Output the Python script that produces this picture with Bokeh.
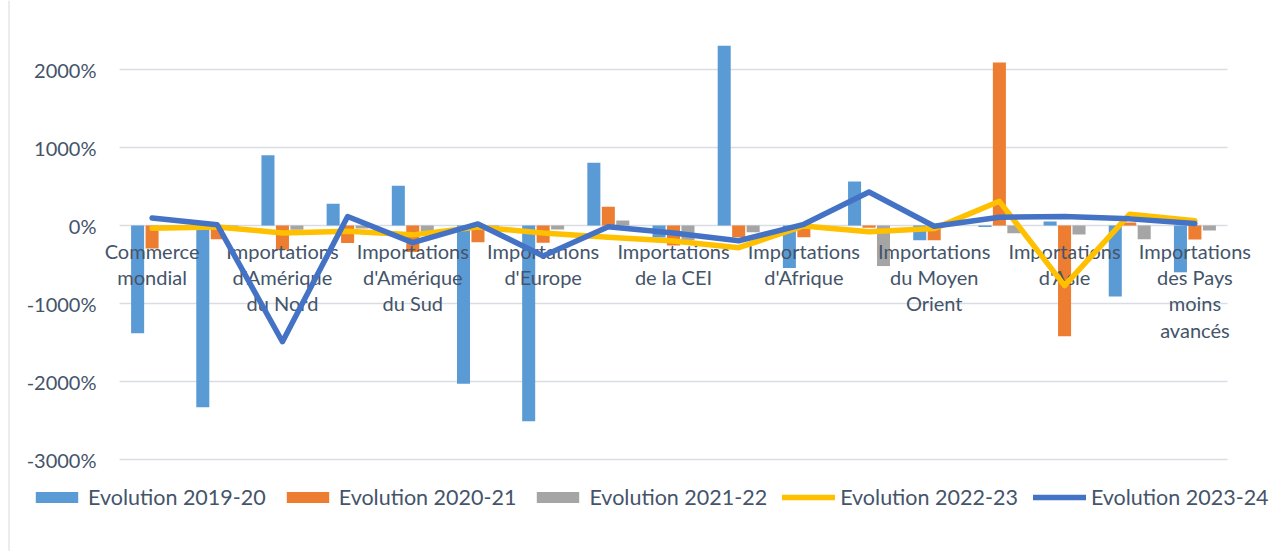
import numpy as np
from bokeh.plotting import figure
from bokeh.models import ColumnDataSource, Legend, LegendItem, Range1d
from bokeh.core.properties import value
from bokeh.embed import file_html
from bokeh.resources import INLINE

# ---------------- data ----------------
categories = [
    "Commerce mondial",
    "Exportations d'Amérique du Nord", "Importations d'Amérique du Nord",
    "Exportations d'Amérique du Sud", "Importations d'Amérique du Sud",
    "Exportations d'Europe", "Importations d'Europe",
    "Exportations de la CEI", "Importations de la CEI",
    "Exportations d'Afrique", "Importations d'Afrique",
    "Exportations du Moyen Orient", "Importations du Moyen Orient",
    "Exportations d'Asie", "Importations d'Asie",
    "Exportations des Pays moins avancés", "Importations des Pays moins avancés",
]
# labels shown on the axis (every other category, as in the source chart)
shown_labels = [
    "Commerce\nmondial",
    "Importations\nd'Amérique\ndu Nord",
    "Importations\nd'Amérique\ndu Sud",
    "Importations\nd'Europe",
    "Importations\nde la CEI",
    "Importations\nd'Afrique",
    "Importations\ndu Moyen\nOrient",
    "Importations\nd'Asie",
    "Importations\ndes Pays\nmoins\navancés",
]
series_names = ["Evolution 2019-20", "Evolution 2020-21", "Evolution 2021-22",
                "Evolution 2022-23", "Evolution 2023-24"]

evol_1920 = [-1380, -2330, 900, 280, 510, -2030, -2510, 805, -155, 2305, -545, 565, -190, -20, 50, -910, -600]
evol_2021 = [-295, -175, -310, -225, -340, -215, -220, 240, -255, -150, -150, -30, -190, 2090, -1420, 40, -180]
evol_2122 = [-20, -20, -55, -40, -75, -20, -50, 65, -190, -85, -10, -520, -5, -100, -115, -175, -65]
evol_2223 = [-35, -20, -95, -75, -120, -20, -95, -150, -200, -285, -5, -80, -40, 310, -770, 145, 60]
evol_2324 = [95, 10, -1490, 115, -220, 20, -390, -15, -95, -195, 15, 430, -10, 105, 115, 85, 25]

y_ticks = [-3000, -2000, -1000, 0, 1000, 2000]
y_tick_labels = [f"{t}%" for t in y_ticks]

# ---------------- layout (pixels) ----------------
W, H = 1272, 551
PLOT_L, PLOT_R = 119, 1227      # plot-area edges
Y_TOP_PX, Y_BOT_PX = 69, 459    # pixel rows of 2000% and -3000%
BORDER_PX = 8.5                 # chart-area left border

n = len(categories)
xs_per_px = n / (PLOT_R - PLOT_L)
x_lo, x_hi = -0.5, n - 0.5
x_start = x_lo - PLOT_L * xs_per_px
x_end = x_hi + (W - PLOT_R) * xs_per_px
ys_per_px = (y_ticks[-1] - y_ticks[0]) / (Y_BOT_PX - Y_TOP_PX)
y_end = y_ticks[-1] + Y_TOP_PX * ys_per_px
y_start = y_ticks[0] - (H - Y_BOT_PX) * ys_per_px

FONT = "Lato"
TXT = "#44546A"

p = figure(width=W, height=H, output_backend="svg", toolbar_location=None,
           x_range=Range1d(x_start, x_end), y_range=Range1d(y_start, y_end),
           x_axis_location=None, y_axis_location=None,
           min_border=0, min_border_left=0, min_border_right=0,
           min_border_top=0, min_border_bottom=0)
p.outline_line_color = None
p.grid.visible = False
p.background_fill_color = "white"
p.border_fill_color = "white"

# chart-area left border
bx = x_start + BORDER_PX * xs_per_px
p.segment(x0=[bx], x1=[bx], y0=[y_start], y1=[y_end], line_color="#d9d9d9", line_width=1)

# gridlines and y tick labels
grid_src = ColumnDataSource(dict(y=y_ticks, lab=y_tick_labels,
                                 x0=[x_lo] * len(y_ticks), x1=[x_hi] * len(y_ticks)))
p.segment(x0="x0", x1="x1", y0="y", y1="y", source=grid_src,
          line_color="#d9dde3", line_width=1.5)
p.text(x="x0", y="y", text="lab", source=grid_src, x_offset=-23,
       text_align="right", text_baseline="middle", text_font=value(FONT),
       text_font_size="20px", text_color=TXT)

x = np.arange(n)
src = ColumnDataSource(dict(
    x=x, xb=x - 0.222, xg=x + 0.222,
    s1=evol_1920, s2=evol_2021, s3=evol_2122, s4=evol_2223, s5=evol_2324))

bw = 0.2
r1 = p.vbar(x="xb", top="s1", bottom=0, width=bw, source=src,
            fill_color="#5B9BD5", line_color=None)
r2 = p.vbar(x="x", top="s2", bottom=0, width=bw, source=src,
            fill_color="#ED7D31", line_color=None)
r3 = p.vbar(x="xg", top="s3", bottom=0, width=bw, source=src,
            fill_color="#A5A5A5", line_color=None)

# category labels at the zero line (every other category)
lab_src = ColumnDataSource(dict(x=x[::2], y=np.zeros(len(shown_labels)), text=shown_labels))
p.text(x="x", y="y", text="text", source=lab_src, text_align="center",
       text_baseline="top", y_offset=13, text_font=value(FONT),
       text_font_size="20px", text_color=TXT, text_line_height=1.1)

r4 = p.line(x="x", y="s4", source=src, line_color="#FFC000", line_width=5.5,
            line_join="round", line_cap="round")
r5 = p.line(x="x", y="s5", source=src, line_color="#4472C4", line_width=5.5,
            line_join="round", line_cap="round")

legend = Legend(items=[LegendItem(label=nm, renderers=[r]) for nm, r in
                       zip(series_names, [r1, r2, r3, r4, r5])],
                orientation="horizontal", location=(30, 41),
                glyph_width=53, glyph_height=14, label_standoff=5, spacing=15,
                padding=0, margin=0, border_line_color=None,
                background_fill_alpha=0,
                label_text_font=FONT, label_text_font_size="21.5px",
                label_text_color=TXT)
p.add_layout(legend, "center")

open("out.html", "w").write(file_html(p, INLINE))
